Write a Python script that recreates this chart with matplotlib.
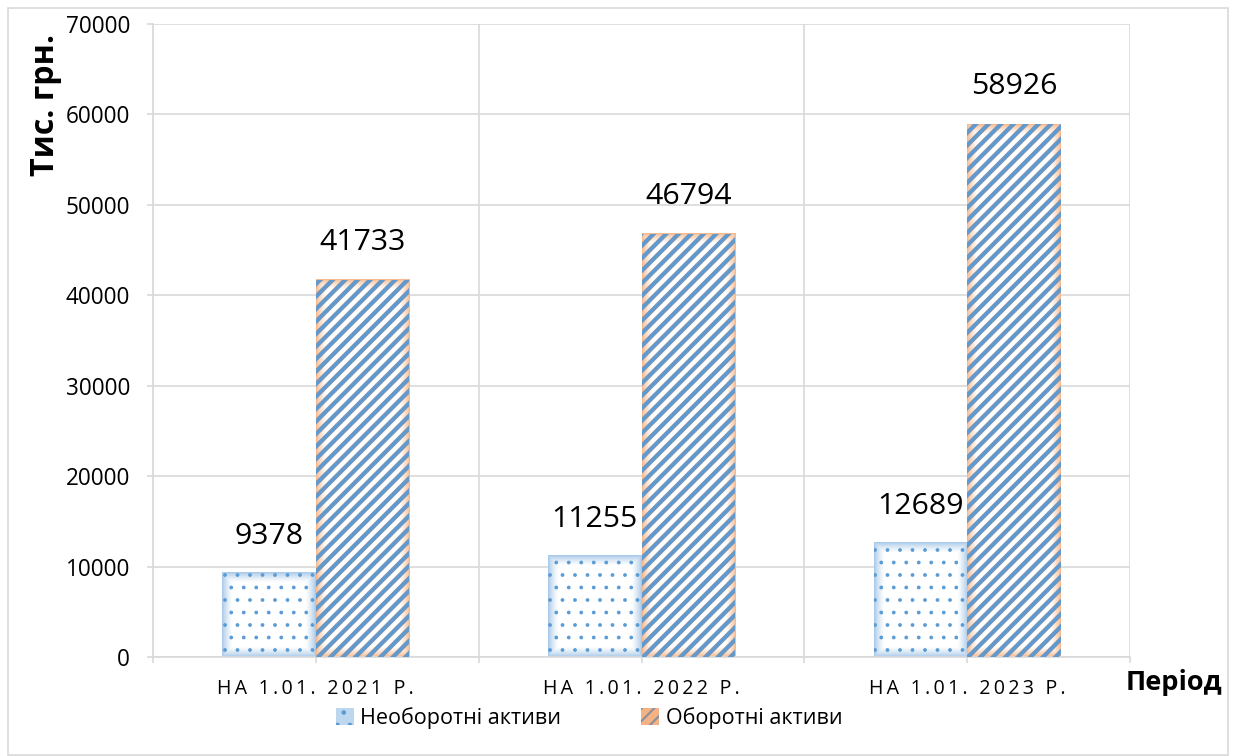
import numpy as np
import matplotlib
matplotlib.use("Agg")
import matplotlib.pyplot as plt
from matplotlib.patches import Rectangle, Patch

plt.rcParams['font.family'] = ['Open Sans', 'DejaVu Sans']

# Balance sheet assets by date, thousand UAH
periods = ["НА 1.01. 2021 Р.", "НА 1.01. 2022 Р.", "НА 1.01. 2023 Р."]
non_current = [9378, 11255, 12689]
current = [41733, 46794, 58926]
series_names = ["Необоротні активи", "Оборотні активи"]

yticks = np.arange(0, 70001, 10000)

grid_col = "#D9D9D9"
blue_edge = np.array([0x9D, 0xC3, 0xE6]) / 255
orange_edge = np.array([0xF4, 0xB1, 0x83]) / 255
dot_col = "#5B9BD5"
stripe_col = "#5B9BD5"
stripe_shadow = "#8593A8"

DPI = 150
fig = plt.figure(figsize=(1236 / DPI, 756 / DPI), dpi=DPI)
ax = fig.add_axes([153 / 1236, 1 - 657 / 756, (1130 - 153) / 1236, (657 - 24) / 756])

# outer chart frame
fig.add_artist(Rectangle((8 / 1236, 1 / 756), 1220 / 1236, 747 / 756,
                         transform=fig.transFigure, fill=False,
                         edgecolor=grid_col, linewidth=0.8))

x = np.arange(len(periods))
bw = 0.2875

ax.set_xlim(-0.5, len(periods) - 0.5)
ax.set_ylim(0, 70000)
fig.canvas.draw()


def glow_bar(x0, x1, h, edge, glow_px=10):
    """Fill a bar with a colour that fades from its edges to white."""
    (px0, py0), (px1, py1) = ax.transData.transform([(x0, 0), (x1, h)])
    w = max(int(round(px1 - px0)), 2)
    hh = max(int(round(py1 - py0)), 2)
    xs = np.arange(w) + 0.5
    ys = np.arange(hh) + 0.5
    dx = np.minimum(xs, w - xs)[None, :]
    dy = np.minimum(ys, hh - ys)[:, None]
    d = np.minimum(dx, dy)
    t = np.clip(d / glow_px, 0, 1) ** 0.7
    img = edge[None, None, :] * (1 - t[..., None]) + t[..., None]
    ax.imshow(img, extent=(x0, x1, 0, h), aspect='auto', origin='lower',
              interpolation='bilinear', zorder=2)


for xi, v in zip(x, non_current):
    glow_bar(xi - bw, xi, v, blue_edge)
for xi, v in zip(x, current):
    glow_bar(xi, xi + bw, v, orange_edge)

with plt.rc_context({'hatch.linewidth': 0.6}):
    ax.bar(x - bw / 2, non_current, bw, facecolor='none', edgecolor=dot_col,
           linewidth=0, hatch='..', zorder=3)
# diagonal stripes: a greyish under-stroke with the blue stroke on top
with plt.rc_context({'hatch.linewidth': 2.1}):
    ax.bar(x + bw / 2, current, bw, facecolor='none', edgecolor=stripe_shadow,
           linewidth=0, hatch='////', zorder=3)
with plt.rc_context({'hatch.linewidth': 1.3}):
    ax.bar(x + bw / 2, current, bw, facecolor='none', edgecolor=stripe_col,
           linewidth=0, hatch='////', zorder=3)

for xi, v in zip(x, non_current):
    ax.annotate(f"{v}", (xi - bw / 2, v), xytext=(0, 10), textcoords='offset points',
                ha='center', va='bottom', fontsize=14.5)
for xi, v in zip(x, current):
    ax.annotate(f"{v}", (xi + bw / 2, v), xytext=(0, 11), textcoords='offset points',
                ha='center', va='bottom', fontsize=14.5)

ax.set_axisbelow(True)
ax.set_yticks(yticks)
ax.set_yticklabels([str(t) for t in yticks], fontsize=10.8)
ax.yaxis.grid(True, color=grid_col, linewidth=0.8)
ax.tick_params(axis='y', length=3, color=grid_col, width=0.8, pad=8)

# category boundaries carry the vertical grid, centres carry the labels
ax.set_xticks(x)
ax.set_xticks(np.arange(len(periods) + 1) - 0.5, minor=True)
ax.set_xticklabels(['\u2009'.join(p) for p in periods], fontsize=9.4)
ax.xaxis.grid(True, which='minor', color=grid_col, linewidth=0.8)
ax.tick_params(axis='x', which='major', length=3, color=grid_col, width=0.8, pad=7.5)
ax.tick_params(axis='x', which='minor', length=3, color=grid_col, width=0.8)

for side in ['top', 'right']:
    ax.spines[side].set_visible(False)
for side in ['left', 'bottom']:
    ax.spines[side].set_color(grid_col)
    ax.spines[side].set_linewidth(0.8)

fig.text(45 / 1236, 1 - 105 / 756, "Тис. грн.", rotation=90, ha='center', va='center',
         fontsize=15.4, fontweight='bold')
fig.text(1174 / 1236, 1 - 683 / 756, "Період", ha='center', va='center',
         fontsize=13, fontweight='bold')

handles = [
    Patch(facecolor='#BDD7EE', edgecolor=dot_col, linewidth=0, hatch='..'),
    Patch(facecolor='#F4B183', edgecolor='#8A8F9A', linewidth=0, hatch='////'),
]
fig.legend(handles, series_names, loc='center', bbox_to_anchor=(589 / 1236, 1 - 718 / 756),
           ncol=2, frameon=False, fontsize=10.3, handlelength=0.85, handleheight=0.85,
           handletextpad=0.3, columnspacing=3.7)

fig.savefig("out.png", dpi=DPI)
